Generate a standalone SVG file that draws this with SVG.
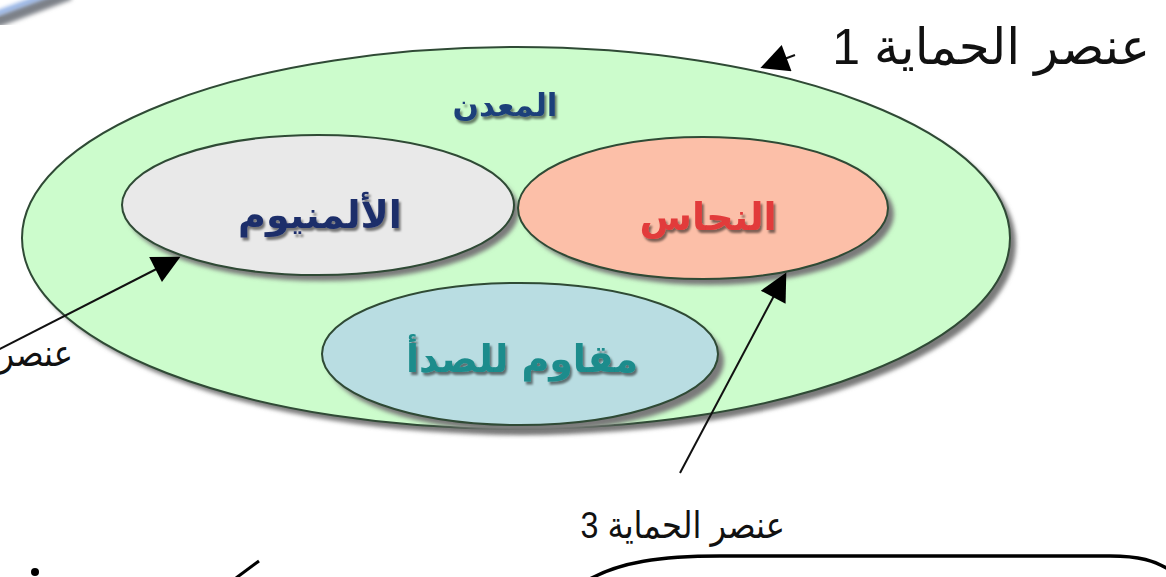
<svg xmlns="http://www.w3.org/2000/svg" width="1166" height="577" viewBox="0 0 1166 577">
<style>
.ell{stroke:#2f4a35;stroke-width:2}
.shadow{fill:#7a7a7a}
.lbl{font-family:"Liberation Sans","DejaVu Sans",sans-serif;fill:#111}
.in{font-family:"DejaVu Sans","Noto Sans",sans-serif;font-weight:bold;text-anchor:middle}
.conn{stroke:#111;stroke-width:2;fill:none}
</style>
<defs>
<filter id="blur" x="-10%" y="-10%" width="120%" height="120%"><feGaussianBlur stdDeviation="2"/></filter>
<filter id="tsh" x="-10%" y="-20%" width="130%" height="150%"><feDropShadow dx="2" dy="3" stdDeviation="1.2" flood-color="#000" flood-opacity="0.5"/></filter>
<marker id="ahL" viewBox="0 0 10 10" refX="9" refY="5" markerWidth="30" markerHeight="28" markerUnits="userSpaceOnUse" orient="auto"><path d="M0,0 L10,5 L0,10 z" fill="#000"/></marker>
</defs>
<rect width="1166" height="577" fill="#fff"/>
<g id="corner">
<line x1="-5" y1="22" x2="70" y2="-6" stroke="#7d8188" stroke-width="12" filter="url(#blur)"/>
<line x1="-5" y1="14" x2="55" y2="-8" stroke="#8fb0e8" stroke-width="5" filter="url(#blur)"/>
</g>
<g id="metal">
<ellipse class="shadow" cx="522" cy="244" rx="494" ry="191" filter="url(#blur)"/>
<ellipse class="ell" cx="516" cy="238" rx="494" ry="191" fill="#ccfccc"/>
<text class="in" x="505" y="116" font-size="31" fill="#1f3f7a" filter="url(#tsh)">المعدن</text>
</g>
<g id="aluminium">
<ellipse class="shadow" cx="323" cy="211" rx="196" ry="70" filter="url(#blur)"/>
<ellipse class="ell" cx="318" cy="205" rx="196" ry="70" fill="#e9e9e9"/>
<text class="in" x="320" y="228" font-size="38" fill="#1f2f6a" filter="url(#tsh)">الألمنيوم</text>
</g>
<g id="copper">
<ellipse class="shadow" cx="709" cy="214" rx="185" ry="71" filter="url(#blur)"/>
<ellipse class="ell" cx="703" cy="208" rx="185" ry="71" fill="#fcbfa8"/>
<text class="in" x="708" y="230" font-size="38" fill="#e23a3a" filter="url(#tsh)">النحاس</text>
</g>
<g id="rustproof">
<ellipse class="shadow" cx="526" cy="361" rx="198" ry="71" filter="url(#blur)"/>
<ellipse class="ell" cx="520" cy="354" rx="198" ry="71" fill="#b9dde2"/>
<text class="in" x="522" y="372" font-size="38" fill="#1a8c8c" filter="url(#tsh)">مقاوم للصدأ</text>
</g>
<g id="labels">
<text class="lbl" x="1150" y="64" font-size="50" text-anchor="end">عنصر الحماية 1</text>
<text class="lbl" x="0" y="0" font-size="37" text-anchor="end" transform="translate(785,538) scale(0.87,1)">عنصر الحماية 3</text>
<text class="lbl" x="0" y="0" font-size="37" text-anchor="end" transform="translate(73,366) scale(0.87,1)">عنصر</text>
</g>
<g id="connectors">
<line class="conn" x1="795" y1="55" x2="763" y2="67" marker-end="url(#ahL)"/>
<line class="conn" x1="-2" y1="350" x2="178" y2="258" marker-end="url(#ahL)"/>
<line class="conn" x1="680" y1="473" x2="785" y2="275" marker-end="url(#ahL)"/>
</g>
<g id="fragments">
<path d="M588 580 C620 562 660 556 720 556 L1110 556 C1140 556 1155 561 1168 569" fill="none" stroke="#000" stroke-width="3.5"/>
<circle cx="35" cy="572" r="4" fill="#000"/>
<line x1="236" y1="578" x2="259" y2="561" stroke="#000" stroke-width="3"/>
</g>
</svg>
